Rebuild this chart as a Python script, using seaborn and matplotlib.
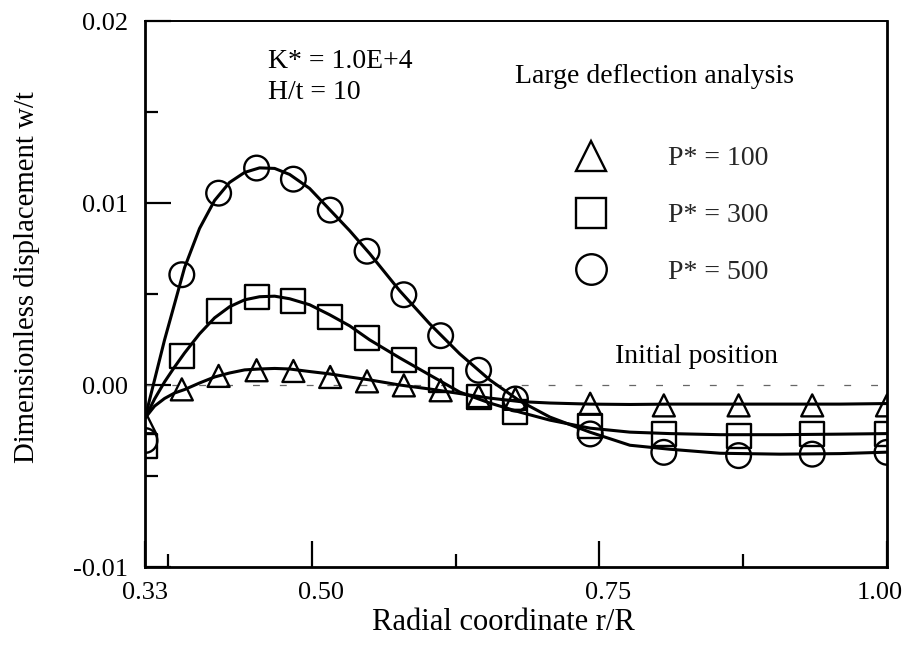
import numpy as np
import pandas as pd
import matplotlib
matplotlib.use("Agg")
import matplotlib.pyplot as plt
import matplotlib.transforms as mtransforms
import seaborn as sns
from matplotlib.lines import Line2D

# ---------------- data ----------------
# marker positions r/R
r_R = [0.355, 0.387, 0.419, 0.452, 0.484, 0.516, 0.548, 0.580,
       0.612, 0.645, 0.677, 0.742, 0.806, 0.871, 0.935, 1.000]

# marker values (w/t)
w_p100 = [-0.00205, -0.00024, 0.00050, 0.00081, 0.00077, 0.00044, 0.00020, -0.00002,
          -0.00029, -0.00061, -0.00076, -0.00103, -0.00112, -0.00112, -0.00112, -0.00112]
w_p300 = [-0.00335, 0.00160, 0.00407, 0.00486, 0.00462, 0.00376, 0.00256, 0.00136,
          0.00026, -0.00066, -0.00149, -0.00223, -0.00269, -0.00278, -0.00269, -0.00269]
w_p500 = [-0.00305, 0.00606, 0.01054, 0.01192, 0.01131, 0.00961, 0.00735, 0.00496,
          0.00271, 0.00081, -0.00077, -0.00269, -0.00370, -0.00388, -0.00380, -0.00370]

# analysis curves (w/t)
curve_r = [0.355, 0.3633, 0.3720, 0.3807, 0.3894, 0.4024, 0.4155, 0.4285, 0.4416, 0.4546,
           0.4677, 0.4807, 0.4981, 0.5155, 0.5329, 0.5503, 0.5764, 0.6025, 0.6286, 0.6547,
           0.6808, 0.7069, 0.7417, 0.7765, 0.8113, 0.8548, 0.9070, 0.9592, 1.000]
curve_p100 = [-0.00182, -0.00116, -0.00074, -0.00044, -0.00025, 0.00011, 0.00044, 0.00066,
              0.00083, 0.00088, 0.00091, 0.00088, 0.00074, 0.00061, 0.00044, 0.00028,
              0.00000, -0.00022, -0.00047, -0.00072, -0.00091, -0.00099, -0.00105, -0.00107,
              -0.00105, -0.00105, -0.00105, -0.00105, -0.00102]
curve_p300 = [-0.00182, -0.00077, 0.00017, 0.00099, 0.00176, 0.00281, 0.00369, 0.00430,
              0.00468, 0.00485, 0.00488, 0.00474, 0.00441, 0.00386, 0.00325, 0.00248,
              0.00149, 0.00055, -0.00039, -0.00099, -0.00149, -0.00193, -0.00237, -0.00259,
              -0.00267, -0.00273, -0.00273, -0.00270, -0.00267]
curve_p500 = [-0.00182, 0.00028, 0.00248, 0.00446, 0.00645, 0.00860, 0.01014, 0.01113,
              0.01168, 0.01193, 0.01190, 0.01157, 0.01080, 0.00964, 0.00848, 0.00722,
              0.00518, 0.00336, 0.00171, 0.00028, -0.00088, -0.00176, -0.00259, -0.00331,
              -0.00353, -0.00375, -0.00380, -0.00377, -0.00369]

loads = ["100", "300", "500"]
legend_labels = ["P* = 100", "P* = 300", "P* = 500"]
x_tick_vals = [0.355, 0.50, 0.75, 1.00]
x_tick_labels = ["0.33", "0.50", "0.75", "1.00"]
x_minor = [0.375, 0.625, 0.875]
y_tick_vals = [-0.01, 0.0, 0.01, 0.02]
y_tick_labels = ["-0.01", "0.00", "0.01", "0.02"]
y_minor = [-0.005, 0.005, 0.015]

n = len(r_R)
m = len(curve_r)
pts = pd.DataFrame({
    "x": r_R * 3,
    "w": w_p100 + w_p300 + w_p500,
    "P": [loads[0]] * n + [loads[1]] * n + [loads[2]] * n,
})
crv = pd.DataFrame({
    "x": curve_r * 3,
    "w": curve_p100 + curve_p300 + curve_p500,
    "P": [loads[0]] * m + [loads[1]] * m + [loads[2]] * m,
})

# ---------------- style ----------------
sns.set_style("white")
plt.rcParams["font.family"] = ["Liberation Serif", "DejaVu Serif"]

fig = plt.figure(figsize=(9.08, 6.49), dpi=100)
ax = fig.add_axes([145 / 908, 1 - 567 / 649, 742 / 908, 546 / 649])

# initial position dashed line
ax.axhline(0.0, color="#666666", lw=0.9, dashes=(5.5, 16), zorder=1)

sns.lineplot(data=crv, x="x", y="w", hue="P", palette=["black"] * 3,
             legend=False, lw=2.2, ax=ax, zorder=2)

marker_map = {"100": "^", "300": "s", "500": "o"}
size_map = {"100": 250, "300": 300, "500": 316}
sns.scatterplot(data=pts, x="x", y="w", style="P", markers=marker_map,
                size="P", sizes=size_map, color="black", edgecolor="black",
                linewidth=1.7, legend=False, ax=ax, zorder=3)
for coll in ax.collections:
    coll.set_facecolor("none")
    coll.set_edgecolor("black")

ax.set_xlim(0.355, 1.0)
ax.set_ylim(-0.01, 0.02)
ax.set_xticks(x_tick_vals)
ax.set_xticklabels(x_tick_labels)
ax.set_xticks(x_minor, minor=True)
ax.set_yticks(y_tick_vals)
ax.set_yticklabels(y_tick_labels)
ax.set_yticks(y_minor, minor=True)

ax.tick_params(axis="both", which="major", direction="in", length=19, width=1.6,
               labelsize=19, pad=11, color="black", labelcolor="black")
ax.tick_params(axis="both", which="minor", direction="in", length=9.5, width=1.6,
               color="black")
ax.tick_params(which="both", bottom=True, left=True, top=False, right=False)
ax.tick_params(axis="y", which="major", pad=12)

# small horizontal offsets of the x tick labels, as typeset in the reference
x_label_shift_px = [0, 9, 9, -7]
for lab, dx in zip(ax.get_xticklabels(), x_label_shift_px):
    lab.set_transform(lab.get_transform() +
                      mtransforms.ScaledTranslation(dx / 100, 0, fig.dpi_scale_trans))

for side in ["left", "right", "bottom"]:
    ax.spines[side].set_linewidth(2.0)
    ax.spines[side].set_color("black")
ax.spines["top"].set_linewidth(1.4)
ax.spines["top"].set_color("black")

ax.set_xlabel("Radial coordinate r/R", fontsize=22, color="black")
ax.set_ylabel("Dimensionless displacement w/t", fontsize=20.7, color="black")
ax.xaxis.set_label_coords((503.5 - 145) / 742, (567 - 608) / 546)
ax.yaxis.set_label_coords((40 - 145) / 742, (567 - 277) / 546)

txt_kw = dict(transform=ax.transAxes, fontsize=20, color="black", va="baseline", ha="left")
ax.text((268 - 145) / 742, (567 - 68) / 546, "K* = 1.0E+4", **txt_kw)
ax.text((268 - 145) / 742, (567 - 99) / 546, "H/t = 10", **txt_kw)
ax.text((515 - 145) / 742, (567 - 83) / 546, "Large deflection analysis", **txt_kw)
ax.text((615 - 145) / 742, (567 - 363) / 546, "Initial position", **txt_kw)

handles = [Line2D([], [], ls="none", marker=marker_map[k], markersize=22,
                  markerfacecolor="none", markeredgecolor="black", markeredgewidth=1.7)
           for k in loads]
ax.legend(handles, legend_labels, loc="upper left",
          bbox_to_anchor=((575 - 145) / 742, (567 - 146) / 546),
          frameon=False, fontsize=20, handlelength=1.15, handletextpad=2.2,
          labelspacing=1.13, borderpad=0, borderaxespad=0)

fig.savefig("out.png", dpi=100)
